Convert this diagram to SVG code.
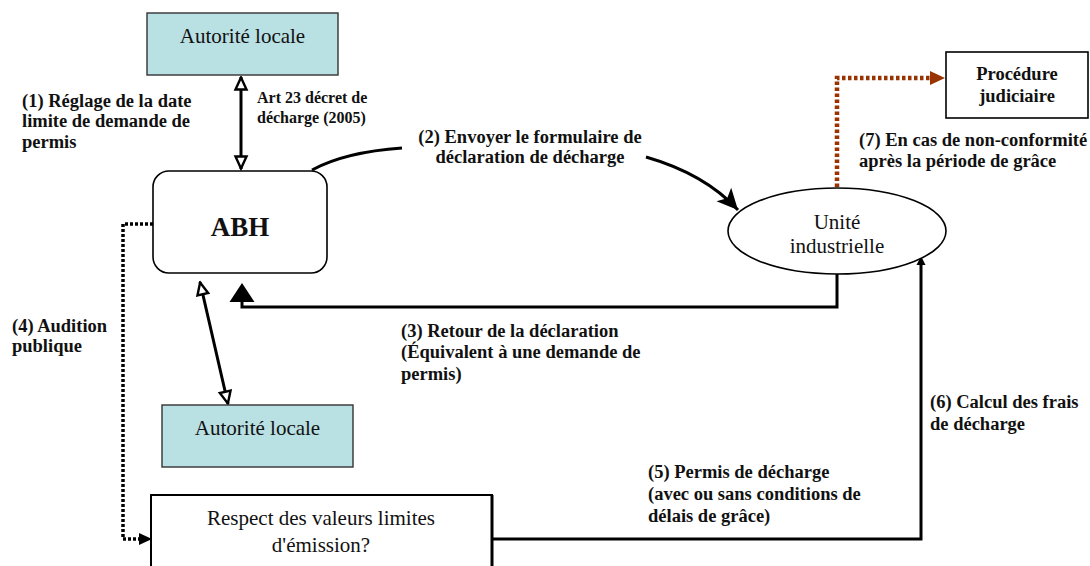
<svg xmlns="http://www.w3.org/2000/svg" width="1090" height="566" viewBox="0 0 1090 566">
<style>
.node{fill:#fff;stroke:#000;stroke-width:1.6}
.auth{fill:#b9e0e3;stroke:#333;stroke-width:1.4}
.nt{font-family:"Liberation Serif","Times New Roman",serif;font-size:21px;fill:#111;text-anchor:middle}
.lb{font-family:"Liberation Serif","Times New Roman",serif;font-size:18.5px;font-weight:bold;fill:#111}
.sm{font-family:"Liberation Serif","Times New Roman",serif;font-size:16px;font-weight:bold;fill:#111}
.c{fill:none;stroke:#000;stroke-width:3}
.dot{fill:none;stroke:#000;stroke-width:3.5;stroke-dasharray:3 2}
.brown{fill:none;stroke:#993300;stroke-width:4.5;stroke-dasharray:3.5 2.5}
</style>
<defs>
<marker id="open" viewBox="0 0 16 16" refX="14.5" refY="8" markerWidth="16" markerHeight="16" markerUnits="userSpaceOnUse" orient="auto-start-reverse">
<path d="M2,2.5 L14,8 L2,13.5 Z" fill="#fff" stroke="#000" stroke-width="2.4" stroke-linejoin="miter"/>
</marker>
<marker id="big" viewBox="0 0 22 22" refX="21" refY="11" markerWidth="22" markerHeight="22" markerUnits="userSpaceOnUse" orient="auto">
<path d="M0,1 L21,11 L0,21 L5,11 Z" fill="#000"/>
</marker>
</defs>

<g id="connectors">
<line class="c" x1="241" y1="77" x2="241" y2="169" marker-start="url(#open)" marker-end="url(#open)"/>
<line class="c" x1="200" y1="282" x2="228" y2="404" marker-start="url(#open)" marker-end="url(#open)"/>
<path class="c" d="M312,170 Q345,152 402,148"/>
<path class="c" d="M646,157 Q705,174 738,210" marker-end="url(#big)"/>
<path class="c" d="M837,273 V307 H242 V300"/>
<polygon points="229.5,302 242,283 254.5,302" fill="#000"/>
<path class="dot" d="M153,224 H123 V539 H142"/>
<polygon points="139,533 152,539 139,545" fill="#000"/>
<path class="c" d="M492,539 H921 V264"/>
<polygon points="916.5,265 921,256 925.5,265" fill="#000"/>
<path class="brown" d="M837,187 V78 H932"/>
<polygon points="930,71 945,78 930,85" fill="#993300"/>
</g>

<g id="autorite-top">
<rect class="auth" x="147" y="13" width="191" height="62"/>
<text class="nt" x="242.5" y="43">Autorité locale</text>
</g>

<g id="abh">
<rect class="node" x="153" y="171" width="174" height="102" rx="16"/>
<text class="nt" x="240" y="236" style="font-weight:bold;font-size:27px">ABH</text>
</g>

<g id="unite">
<ellipse class="node" cx="837" cy="231" rx="109" ry="43"/>
<text class="nt" x="837" y="229">Unité</text>
<text class="nt" x="837" y="253">industrielle</text>
</g>

<g id="procedure">
<rect class="node" x="946" y="52" width="142" height="66"/>
<text class="lb" x="1017" y="80" text-anchor="middle">Procédure</text>
<text class="lb" x="1017" y="102" text-anchor="middle">judiciaire</text>
</g>

<g id="autorite-bottom">
<rect class="auth" x="162" y="405" width="191" height="62"/>
<text class="nt" x="257.5" y="435">Autorité locale</text>
</g>

<g id="respect">
<rect class="node" x="151" y="495" width="341" height="80" style="stroke-width:2"/>
<line x1="492" y1="495" x2="492" y2="566" stroke="#000" stroke-width="3"/>
<text class="nt" x="321" y="525">Respect des valeurs limites</text>
<text class="nt" x="321" y="552">d'émission?</text>
</g>

<g id="labels">
<text class="lb" x="22" y="107">(1) Réglage de la date</text>
<text class="lb" x="22" y="127">limite de demande de</text>
<text class="lb" x="22" y="148">permis</text>
<text class="sm" x="257" y="103">Art 23 décret de</text>
<text class="sm" x="257" y="123">décharge (2005)</text>
<text class="lb" x="530" y="143" text-anchor="middle">(2) Envoyer le formulaire de</text>
<text class="lb" x="530" y="163" text-anchor="middle">déclaration de décharge</text>
<text class="lb" x="859" y="146">(7) En cas de non-conformité</text>
<text class="lb" x="859" y="167">après la période de grâce</text>
<text class="lb" x="401" y="337">(3) Retour de la déclaration</text>
<text class="lb" x="401" y="358">(Équivalent à une demande de</text>
<text class="lb" x="401" y="380">permis)</text>
<text class="lb" x="12" y="332">(4) Audition</text>
<text class="lb" x="12" y="352">publique</text>
<text class="lb" x="648" y="478">(5) Permis de décharge</text>
<text class="lb" x="648" y="500">(avec ou sans conditions de</text>
<text class="lb" x="648" y="522">délais de grâce)</text>
<text class="lb" x="930" y="408">(6) Calcul des frais</text>
<text class="lb" x="930" y="430">de décharge</text>
</g>
</svg>
